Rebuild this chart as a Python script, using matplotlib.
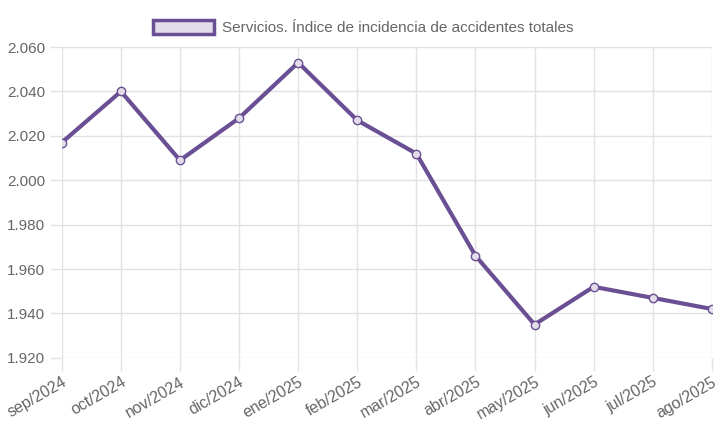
import matplotlib
matplotlib.use("Agg")
import matplotlib.pyplot as plt
import matplotlib.patches as mpatches
from matplotlib.ticker import FuncFormatter, MultipleLocator

plt.rcParams["font.family"] = ["Liberation Sans", "DejaVu Sans"]

# ---- data ----
MONTHS = ["sep/2024", "oct/2024", "nov/2024", "dic/2024", "ene/2025", "feb/2025",
          "mar/2025", "abr/2025", "may/2025", "jun/2025", "jul/2025", "ago/2025"]
INDICE = [2017, 2040, 2009, 2028, 2053, 2027, 2012, 1966, 1935, 1952, 1947, 1942]
LABEL = "Servicios. Índice de incidencia de accidentes totales"

LINE = "#6a4f94"
FILL = "#e2dde9"
GRID = "#e2e2e2"
TEXT = "#666666"

fig = plt.figure(figsize=(7.19, 4.28), dpi=100)
ax = fig.add_axes([0.086, 0.164, 0.904, 0.726])

x = range(len(MONTHS))
ax.plot(x, INDICE, color=LINE, lw=3, marker="o", ms=6, mfc=FILL, mec=LINE, mew=1,
        solid_joinstyle="round", zorder=3)

ax.set_xlim(0, len(MONTHS) - 1)
ax.set_ylim(1920, 2060)
ax.yaxis.set_major_locator(MultipleLocator(20))
ax.yaxis.set_major_formatter(FuncFormatter(lambda v, _: f"{v/1000:.3f}"))
ax.set_xticks(list(x))
ax.set_xticklabels(MONTHS, rotation=30, ha="right", rotation_mode="anchor")

for s in ax.spines.values():
    s.set_visible(False)
ax.grid(True, color=GRID, lw=1)
ax.set_axisbelow(True)
ax.tick_params(axis="both", colors=GRID, length=9, width=1, labelcolor=TEXT,
               labelsize=11, pad=3)
ax.tick_params(axis="x", labelsize=11.5, pad=3)

handle = mpatches.Patch(facecolor=FILL, edgecolor=LINE, linewidth=2.5, label=LABEL)
fig.legend(handles=[handle], loc="upper center", bbox_to_anchor=(0.505, 0.985),
           frameon=False, fontsize=11, labelcolor=TEXT, handlelength=4.0,
           handleheight=1.0, handletextpad=0.5)

fig.savefig("out.png", dpi=100)
